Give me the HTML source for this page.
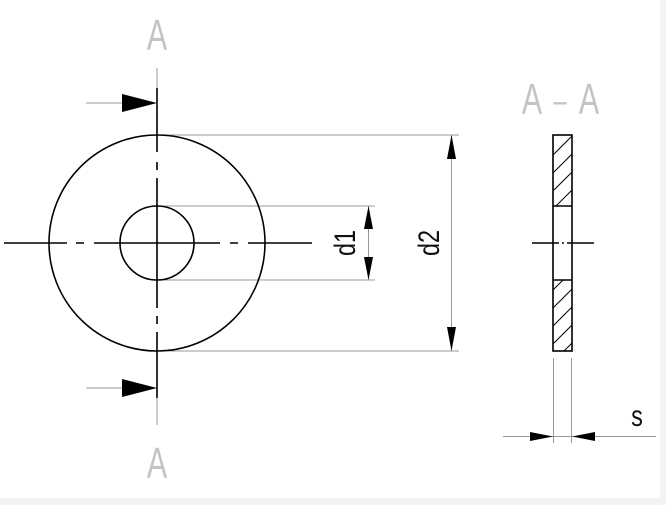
<!DOCTYPE html>
<html><head><style>
html,body{margin:0;padding:0;background:#fff;}
svg{display:block;}
text{font-family:"Liberation Sans","DejaVu Sans",sans-serif;}
</style></head><body>
<svg width="666" height="505" viewBox="0 0 666 505" xmlns="http://www.w3.org/2000/svg">
<rect x="0" y="0" width="666" height="505" fill="#fff"/>
<rect x="0" y="498" width="666" height="7" fill="#f3f3f3"/>
<rect x="660" y="0" width="6" height="505" fill="#f3f3f3"/>
<defs>
<clipPath id="c1"><rect x="553" y="135" width="19" height="71"/></clipPath>
<clipPath id="c2"><rect x="553" y="280" width="19" height="71"/></clipPath>
</defs>
<g fill="#c4c4c4">
<text transform="translate(157,50) scale(0.8,1.15)" font-size="38" text-anchor="middle">A</text>
<text transform="translate(157,478) scale(0.8,1.15)" font-size="38" text-anchor="middle">A</text>
<text transform="translate(532,114) scale(0.8,1.15)" font-size="38" text-anchor="middle">A</text>
<text transform="translate(560,112) scale(0.8,1.15)" font-size="30" text-anchor="middle">–</text>
<text transform="translate(589,114) scale(0.8,1.15)" font-size="38" text-anchor="middle">A</text>
</g>
<g stroke="#999" stroke-width="1" fill="none">
<line x1="157" y1="68" x2="157" y2="90"/>
<line x1="157" y1="398" x2="157" y2="425"/>
<line x1="86" y1="103" x2="122" y2="103"/>
<line x1="86" y1="388" x2="122" y2="388"/>
<line x1="157" y1="135" x2="459" y2="135"/>
<line x1="157" y1="351" x2="459" y2="351"/>
<line x1="157" y1="206" x2="375" y2="206"/>
<line x1="157" y1="280" x2="375" y2="280"/>
<line x1="368.5" y1="206" x2="368.5" y2="280"/>
<line x1="451.5" y1="135" x2="451.5" y2="351"/>
<line x1="553.5" y1="358" x2="553.5" y2="443"/>
<line x1="571.5" y1="358" x2="571.5" y2="443"/>
<line x1="503" y1="436.5" x2="656" y2="436.5"/>
</g>
<g fill="#000">
<polygon points="122,94 157,103 122,112"/>
<polygon points="122,379 157,388 122,397"/>
<polygon points="368.5,206 364,229 373,229"/>
<polygon points="368.5,280 364,257 373,257"/>
<polygon points="451.5,135 447,159 456,159"/>
<polygon points="451.5,351 447,327 456,327"/>
<polygon points="553,436.5 530,432 530,441"/>
<polygon points="572,436.5 595,432 595,441"/>
</g>
<g stroke="#000" stroke-width="1.6" fill="none">
<circle cx="157" cy="243" r="108"/>
<circle cx="157" cy="243" r="37"/>
<path d="M157 88V152M157 162V170M157 178V308M157 316V324M157 332V398"/>
<path d="M4 243H67M76 243H84M94 243H220M230 243H238M248 243H312"/>
<rect x="553" y="135" width="19" height="216"/>
<line x1="553" y1="206" x2="572" y2="206"/>
<line x1="553" y1="280" x2="572" y2="280"/>
<path d="M532 243H559M562 243H564M567 243H594"/>
</g>
<g stroke="#000" stroke-width="1" clip-path="url(#c1)">
<line x1="553" y1="155" x2="572" y2="136"/>
<line x1="553" y1="173" x2="572" y2="154"/>
<line x1="553" y1="191" x2="572" y2="172"/>
<line x1="553" y1="209" x2="572" y2="190"/>
<line x1="553" y1="227" x2="572" y2="208"/>
</g>
<g stroke="#000" stroke-width="1" clip-path="url(#c2)">
<line x1="553" y1="290" x2="572" y2="271"/>
<line x1="553" y1="308" x2="572" y2="289"/>
<line x1="553" y1="326" x2="572" y2="307"/>
<line x1="553" y1="344" x2="572" y2="325"/>
<line x1="553" y1="362" x2="572" y2="343"/>
</g>
<g fill="#111">
<text transform="translate(355,243) rotate(-90) scale(0.9,1.15)" font-size="26" text-anchor="middle">d1</text>
<text transform="translate(439,243) rotate(-90) scale(0.9,1.15)" font-size="26" text-anchor="middle">d2</text>
<text transform="translate(637,426) scale(0.9,1.15)" font-size="26" text-anchor="middle">s</text>
</g>
</svg>
</body></html>
